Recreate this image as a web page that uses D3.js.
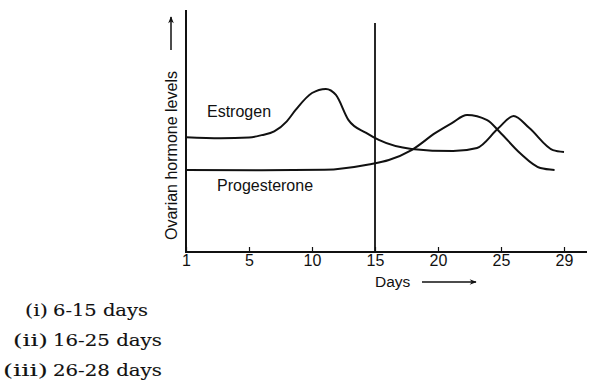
<!DOCTYPE html>
<html><head><meta charset="utf-8">
<script src="https://cdn.jsdelivr.net/npm/d3@7/dist/d3.min.js"></script>
<style>body{margin:0;background:#fff;}svg{display:block;}</style>
</head><body>
<svg id="c" width="603" height="386"></svg>
<script>
const tickDays = [1, 5, 10, 15, 20, 25, 29];
const estrogenDays = [1, 3.2, 5, 6.0, 7.0, 8.0, 8.7, 10.0, 11.1, 11.9, 12.9, 14.3, 15.3, 17.9, 21.2, 23.1, 24.8, 25.8, 26.8, 28.3, 29];
const estrogenVals = [47.4, 47.0, 47.3, 48.3, 49.8, 54.0, 58.7, 65.7, 67.4, 64.9, 54.5, 49.2, 46.3, 42.6, 41.7, 43, 51.2, 56.2, 51.2, 42.1, 41.3];
const progDays = [1, 6, 11, 14.5, 16.1, 17.9, 19.8, 21.1, 22.3, 23.9, 24.9, 26.2, 27.5, 28.4];
const progVals = [33.9, 33.8, 34.0, 36.2, 38, 42.1, 49.2, 53.3, 56.6, 54.5, 49.6, 40.9, 34.7, 33.9];
const options = [["(i)", "6-15 days"], ["(ii)", "16-25 days"], ["(iii)", "26-28 days"]];

const svg = d3.select("#c");
const x0 = 186, step = 63;
const x = d3.scaleLinear().domain(tickDays).range(tickDays.map((d, i) => x0 + i * step));
const y = d3.scaleLinear().domain([0, 100]).range([252, 10]);

const defs = svg.append("defs");
defs.append("marker").attr("id", "ah").attr("viewBox", "0 0 10 10").attr("refX", 9).attr("refY", 5)
  .attr("markerWidth", 9).attr("markerHeight", 7).attr("markerUnits", "userSpaceOnUse").attr("orient", "auto")
  .append("path").attr("d", "M0,1 L10,5 L0,9 L3,5 Z").attr("fill", "#111");

const ink = "#111";
svg.append("line").attr("x1", x(1)).attr("x2", x(1)).attr("y1", y(100)).attr("y2", y(0)).attr("stroke", ink).attr("stroke-width", 2);
svg.append("line").attr("x1", x(1) - 1).attr("x2", x(29) + 23).attr("y1", y(0)).attr("y2", y(0)).attr("stroke", ink).attr("stroke-width", 2);

const ax = svg.append("g").attr("transform", `translate(0,${y(0)})`)
  .call(d3.axisBottom(x).tickValues(tickDays).tickSize(-5).tickSizeOuter(0).tickPadding(3).tickFormat(d3.format("d")));
ax.select(".domain").remove();
ax.selectAll(".tick line").attr("stroke", ink).attr("stroke-width", 1.2);
ax.selectAll(".tick text").attr("font-family", "Liberation Sans, Arial, sans-serif").attr("font-size", 16).attr("fill", ink);

svg.append("line").attr("x1", x(15)).attr("x2", x(15)).attr("y1", y(94.6)).attr("y2", y(0)).attr("stroke", ink).attr("stroke-width", 1.8);

const line = d3.line().curve(d3.curveMonotoneX).x(d => x(d[0])).y(d => y(d[1]));
svg.append("path").datum(estrogenDays.map((d, i) => [d, estrogenVals[i]])).attr("d", line)
  .attr("fill", "none").attr("stroke", ink).attr("stroke-width", 2);
svg.append("path").datum(progDays.map((d, i) => [d, progVals[i]])).attr("d", line)
  .attr("fill", "none").attr("stroke", ink).attr("stroke-width", 2);

const sans = "Liberation Sans, Arial, sans-serif";
svg.append("text").attr("x", 207).attr("y", 116.5).text("Estrogen").attr("font-family", sans).attr("font-size", 16).attr("fill", ink);
svg.append("text").attr("x", 217).attr("y", 191).text("Progesterone").attr("font-family", sans).attr("font-size", 16).attr("fill", ink);

svg.append("text").attr("transform", "translate(177,240) rotate(-90)").text("Ovarian hormone levels")
  .attr("font-family", sans).attr("font-size", 16).attr("fill", ink);
svg.append("line").attr("x1", 171).attr("x2", 171).attr("y1", 50).attr("y2", 17).attr("stroke", ink).attr("stroke-width", 1.5).attr("marker-end", "url(#ah)");

svg.append("text").attr("x", 375).attr("y", 287).text("Days").attr("font-family", sans).attr("font-size", 15.5).attr("fill", ink);
svg.append("line").attr("x1", 422).attr("x2", 476).attr("y1", 282).attr("y2", 282).attr("stroke", ink).attr("stroke-width", 1.5).attr("marker-end", "url(#ah)");

const serif = "DejaVu Serif, serif";
const og = svg.append("g");
const labelStart = [25, 13, 3];
const valueLen = [95, 109, 109];
function fitText(txt, x, by, w) {
  const t = og.append("text").text(txt).attr("font-family", serif).attr("font-size", 16.5)
    .attr("fill", "#111").attr("stroke", "#111").attr("stroke-width", 0.12);
  const nat = t.node().getComputedTextLength();
  t.attr("transform", `translate(${x},${by}) scale(${w / nat},1)`);
}
options.forEach((o, i) => {
  const by = 316 + i * 30;
  fitText(o[0], labelStart[i], by, 48 - labelStart[i]);
  fitText(o[1], 53, by, valueLen[i]);
});
</script>
</body></html>
